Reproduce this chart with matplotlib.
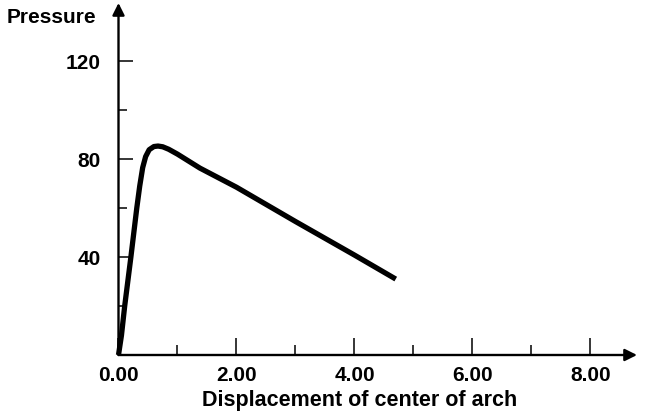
import numpy as np
import matplotlib
matplotlib.use("Agg")
import matplotlib.pyplot as plt

plt.rcParams['font.family'] = ['Liberation Sans', 'DejaVu Sans']
plt.rcParams['font.weight'] = 'bold'

# values
displacement = [0.0, 0.05, 0.105, 0.21, 0.31, 0.36, 0.41, 0.46, 0.52, 0.6, 0.67, 0.75, 0.85, 1.0, 1.38, 2.0, 3.0, 4.0, 4.7]
pressure = [0.0, 8.0, 20.0, 40.0, 60.0, 69.0, 76.5, 81.0, 83.8, 85.1, 85.3, 85.0, 84.0, 82.0, 76.3, 68.5, 54.5, 40.8, 31.0]

x_major = [0, 2, 4, 6, 8]
x_minor = [1, 3, 5, 7]
x_labels = ["0.00", "2.00", "4.00", "6.00", "8.00"]
y_major = [40, 80, 120]
y_minor = [20, 60, 100]
y_labels = ["40", "80", "120"]

fig = plt.figure(figsize=(6.51, 4.15), dpi=100)
# axes placed in pixels: origin at (118.5, 355) from top-left
ax = fig.add_axes([118.5 / 651, 60 / 415, (637 - 118.5) / 651, (355 - 3) / 415])
ax.set_xlim(0, 8.79)
ax.set_ylim(0, 143.7)

for s in ax.spines.values():
    s.set_visible(False)

ax.plot(displacement, pressure, color='black', lw=3.8, solid_joinstyle='round',
        solid_capstyle='butt', clip_on=False)

# axes with arrow heads
ax.annotate('', xy=(8.79, 0), xytext=(0, 0), annotation_clip=False,
            arrowprops=dict(arrowstyle='-|>', lw=1.7, color='black', mutation_scale=18,
                            shrinkA=0, shrinkB=0))
ax.annotate('', xy=(0, 143.7), xytext=(0, 0), annotation_clip=False,
            arrowprops=dict(arrowstyle='-|>', lw=1.7, color='black', mutation_scale=18,
                            shrinkA=0, shrinkB=0))

ax.set_xticks(x_major)
ax.set_xticklabels(x_labels)
ax.set_xticks(x_minor, minor=True)
ax.set_yticks(y_major)
ax.set_yticklabels(y_labels)
ax.set_yticks(y_minor, minor=True)

ax.tick_params(axis='x', which='major', direction='in', length=12, width=1.1, pad=8, labelsize=15)
ax.tick_params(axis='x', which='minor', direction='in', length=7, width=1.1)
ax.tick_params(axis='y', which='major', direction='in', length=11, width=1.1, pad=13, labelsize=15)
ax.tick_params(axis='y', which='minor', direction='in', length=6.5, width=1.1)

fig.text(360 / 651, 1 - 406 / 415, "Displacement of center of arch", fontsize=15.5,
         fontweight='bold', va='baseline', ha='center')
fig.text(7 / 651, 1 - 23 / 415, "Pressure", fontsize=15, fontweight='bold', va='baseline', ha='left')

fig.savefig("out.png", dpi=100)
